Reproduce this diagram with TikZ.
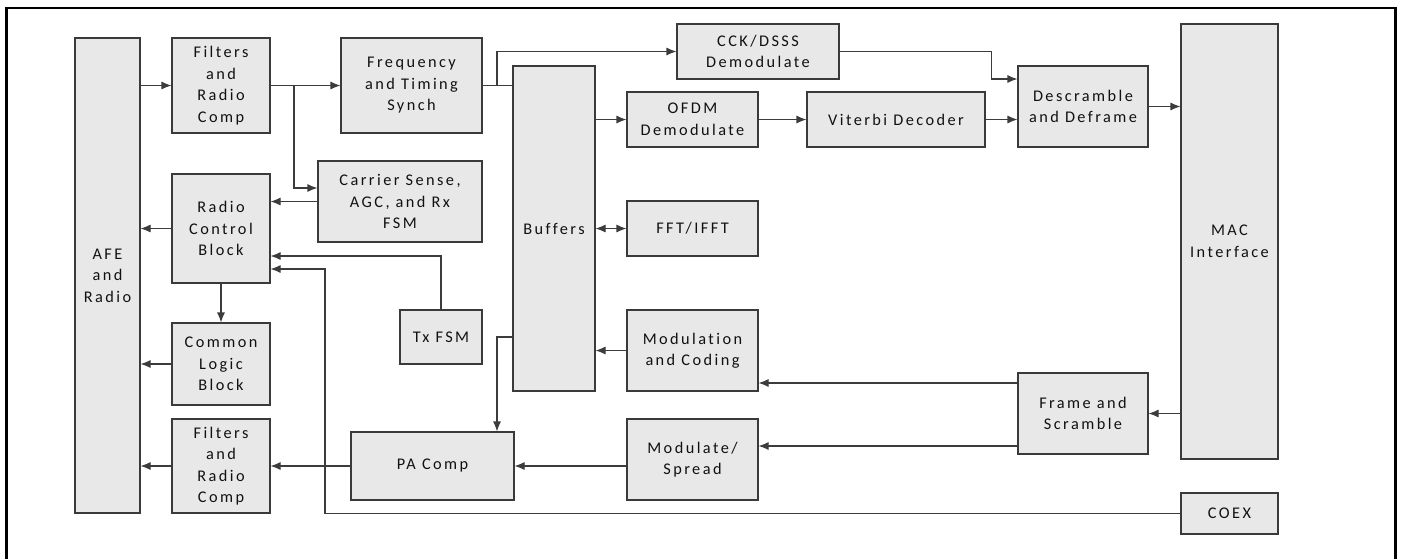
\documentclass[tikz,border=0pt]{standalone}
\usepackage{fontspec}
\setmainfont{Carlito}[LetterSpace=15,Ligatures=NoCommon]
\usetikzlibrary{arrows.meta}
\definecolor{boxfill}{HTML}{E8E8E8}
\definecolor{boxline}{HTML}{3A3A3A}
\definecolor{wire}{HTML}{3C3C3C}
\definecolor{txt}{HTML}{111111}
\tikzset{
  blk/.style={draw=boxline, fill=boxfill, line width=1.1pt, rectangle, inner sep=0pt,
    align=center, text=txt, font=\fontsize{16.3}{21.5}\selectfont},
  arr/.style={draw=wire, line width=1.1pt, -{Latex[length=10pt,width=8pt]}},
  arrb/.style={draw=wire, line width=1.1pt, {Latex[length=10pt,width=8pt]}-{Latex[length=10pt,width=8pt]}},
  wireline/.style={draw=wire, line width=1.1pt},
  frameline/.style={draw=black, line width=2.6pt}
}
\begin{document}
\begin{tikzpicture}[x=1pt,y=-1pt]
\useasboundingbox (0,0) rectangle (1402,558);
\draw[frameline] (6.5,560) -- (6.5,7.8) -- (1395.5,7.8) -- (1395.5,560);

% blocks
\node[blk, minimum width=65pt, minimum height=475pt] (afe) at (107.5,275.5) {AFE\\and\\Radio};
\node[blk, minimum width=98pt, minimum height=95pt] (f1) at (221,85.5) {Filters\\and\\Radio\\Comp};
\node[blk, minimum width=141pt, minimum height=95pt] (fts) at (411.5,85.5) {Frequency\\and Timing\\Synch};
\node[blk, minimum width=164pt, minimum height=81pt] (cs) at (400,201.5) {Carrier Sense,\\AGC, and Rx\\FSM};
\node[blk, minimum width=98pt, minimum height=109pt] (rcb) at (221,228.5) {Radio\\Control\\Block};
\node[blk, minimum width=98pt, minimum height=82pt] (clb) at (221,364) {Common\\Logic\\Block};
\node[blk, minimum width=98pt, minimum height=94pt] (f2) at (221,466) {Filters\\and\\Radio\\Comp};
\node[blk, minimum width=82pt, minimum height=54pt] (tx) at (441,337) {Tx FSM};
\node[blk, minimum width=163pt, minimum height=68pt] (pa) at (432.5,466) {PA Comp};
\node[blk, minimum width=82pt, minimum height=325pt] (buf) at (554,228.5) {Buffers};
\node[blk, minimum width=162pt, minimum height=55pt] (cck) at (758,51.5) {CCK/DSSS\\Demodulate};
\node[blk, minimum width=131pt, minimum height=55pt] (ofdm) at (692.5,119.5) {OFDM\\Demodulate};
\node[blk, minimum width=131pt, minimum height=55pt] (fft) at (692.5,228.5) {FFT/IFFT};
\node[blk, minimum width=178pt, minimum height=55pt] (vit) at (896,119.5) {Viterbi Decoder};
\node[blk, minimum width=130pt, minimum height=81pt] (des) at (1083,106.5) {Descramble\\and Deframe};
\node[blk, minimum width=97pt, minimum height=435pt] (mac) at (1229.5,241.5) {MAC\\Interface};
\node[blk, minimum width=131pt, minimum height=81pt] (mc) at (692.5,350.5) {Modulation\\and Coding};
\node[blk, minimum width=131pt, minimum height=81pt] (ms) at (692.5,459.5) {Modulate/\\Spread};
\node[blk, minimum width=130pt, minimum height=81pt] (fs) at (1083,413.5) {Frame and\\Scramble};
\node[blk, minimum width=97pt, minimum height=41pt] (coex) at (1229.5,513.5) {COEX};

% helper points
\coordinate (b1) at (294,85.5);
\coordinate (b2) at (497,85.5);
\coordinate (c1) at (325,513.5);

% receive path
\draw[arr] (afe.east |- f1.west) -- (f1.west);
\draw[arr] (f1.east) -- (fts.west);
\draw[arr] (b1) |- ([yshift=13.5pt]cs.west);
\draw[arr] (cs.west) -- (cs.west -| rcb.east);
\draw[arr] (rcb.west) -- (rcb.west -| afe.east);
\draw[arr] (tx.north) |- ([yshift=-27.5pt]rcb.east);
\draw[arr] (coex.west) -- (c1) |- ([yshift=-40.5pt]rcb.east);
\draw[arr] (rcb.south) -- (clb.north);
\draw[arr] (clb.west) -- (clb.west -| afe.east);
\draw[arr] (f2.west) -- (f2.west -| afe.east);
\draw[arr] (pa.west) -- (f2.east);
\draw[arr] (ms.west |- pa.east) -- (pa.east);
\draw[wireline] (fts.east) -- (fts.east -| buf.west);
\draw[arr] (b2) |- (cck.west);
\draw[arr] (buf.east |- ofdm.west) -- (ofdm.west);
\draw[arr] (ofdm.east) -- (vit.west);
\draw[arr] (cck.east) -| ([xshift=-26pt,yshift=27.5pt]des.west) -- ([yshift=27.5pt]des.west);
\draw[arr] (vit.east) -- (vit.east -| des.west);
\draw[arr] (des.east) -- (des.east -| mac.west);
\draw[arrb] (fft.west -| buf.east) -- (fft.west);
% transmit path
\draw[arr] (mc.west) -- (mc.west -| buf.east);
\draw[arr] ([yshift=-108.5pt]buf.west) -| ([xshift=64.5pt]pa.north);
\draw[arr] ([yshift=30.5pt]fs.west) -- ([yshift=30.5pt]fs.west -| mc.east);
\draw[arr] ([yshift=-32.5pt]fs.west) -- ([yshift=-32.5pt]fs.west -| ms.east);
\draw[arr] (mac.west |- fs.east) -- (fs.east);
\end{tikzpicture}
\end{document}
